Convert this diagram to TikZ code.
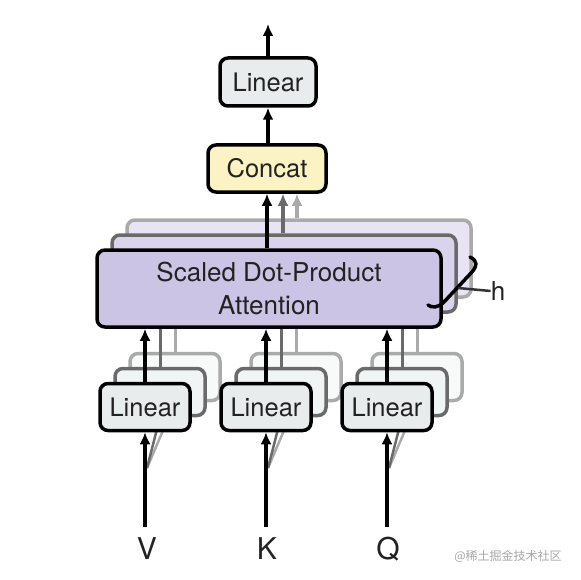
\documentclass[tikz,border=0pt]{standalone}
\usepackage{fontspec}
\setmainfont{TeX Gyre Heros}
\newfontfamily\cjk{Noto Sans CJK SC}
\usetikzlibrary{arrows.meta}
\definecolor{linfill}{HTML}{E8ECEC}
\definecolor{catfill}{HTML}{FBF3C3}
\definecolor{attfill}{HTML}{CCC4E4}
\definecolor{textc}{HTML}{222222}
\definecolor{midgray}{HTML}{6A6A6A}
\definecolor{lightgray}{HTML}{AAAAAA}
\begin{document}
\begin{tikzpicture}[x=1pt,y=-1pt,
  box/.style={draw=black, line width=3.5pt, rounded corners=8pt, inner sep=0pt, text=textc,
    font=\fontsize{25.5}{34}\selectfont, align=center},
  linbox/.style={box, fill=linfill, minimum width=90pt, minimum height=47pt},
  linback/.style={linbox, draw=midgray, fill=linfill!60!white},
  linbackb/.style={linbox, draw=lightgray, fill=linfill!30!white},
  attbox/.style={box, fill=attfill, minimum width=344pt, minimum height=77pt},
  attback/.style={attbox, draw=midgray, fill=attfill!75!white},
  attbackb/.style={attbox, draw=lightgray, fill=attfill!45!white},
  arr/.style={line width=3.5pt, -{Latex[length=12pt,width=11pt]}},
  garr/.style={arr, draw=midgray},
  lgarr/.style={arr, draw=lightgray},
  gline/.style={line width=3pt, draw=midgray},
  lgline/.style={line width=3pt, draw=lightgray},
  lbl/.style={text=textc, font=\fontsize{30}{30}\selectfont, inner sep=0pt},
]
\useasboundingbox (0,0) rectangle (580,580);

% attention back layers
\node[attbackb] (att3) at (299,258.5) {};
\node[attback] (att2) at (284,273.5) {};

% concat and top linear
\node[box, fill=catfill, minimum width=118pt, minimum height=47pt] (cat) at (267,168.5) {Concat};
\node[box, fill=linfill, minimum width=96pt, minimum height=48pt] (lintop) at (268,82) {Linear};
\coordinate (out) at (268,24);

% gray output arrows
\draw[lgarr] (att3.north -| 297,0) -- (297,0 |- cat.south);
\draw[garr] (att2.north -| 283,0) -- (283,0 |- cat.south);

% linear groups back layers
\foreach \n/\x in {v/145,k/266,q/387}{
  \node[linbackb] (\n3) at (\x+30,377) {};
  \node[linback] (\n2) at (\x+15,392) {};
  \draw[lgline] (\n3.north) -- (\n3.north |- att3.south);
  \draw[gline] (\n2.north) -- (\n2.north |- att2.south);
}

% input labels
\node[lbl] (lv) at (147,549) {V};
\node[lbl] (lk) at (267,549) {K};
\node[lbl] (lq) at (388,549) {Q};
\coordinate (iv) at (145,527);
\coordinate (ik) at (266,527);
\coordinate (iq) at (387,527);
\coordinate (sv) at (147,468);
\coordinate (sk) at (268,468);
\coordinate (sq) at (389,468);

% gray input lines to back layers
\foreach \n in {v,k,q}{
  \draw[lgline, line width=2.5pt] (s\n) -- (\n3.south);
  \draw[gline, line width=2.5pt] (s\n) -- (\n2.south);
}

% front linear boxes
\node[linbox] (v1) at (145,407) {Linear};
\node[linbox] (k1) at (266,407) {Linear};
\node[linbox] (q1) at (387,407) {Linear};

% front attention
\node[attbox, font=\fontsize{26}{33}\selectfont] (att1) at (269,288.5) {Scaled Dot-Product\\Attention};

% black arrows
\draw[arr] (iv) -- (v1.south);
\draw[arr] (ik) -- (k1.south);
\draw[arr] (iq) -- (q1.south);
\draw[arr] (v1.north) -- (v1.north |- att1.south);
\draw[arr] (k1.north) -- (k1.north |- att1.south);
\draw[arr] (q1.north) -- (q1.north |- att1.south);
\draw[arr] (att1.north -| cat.south) -- (cat.south);
\draw[arr] (cat.north -| lintop.south) -- (lintop.south);
\draw[arr] (lintop.north) -- (out);

% brace with h
\node[text=textc, font=\fontsize{26}{26}\selectfont, inner sep=0pt] (h) at (498,291) {h};
\draw[line width=3.5pt, line cap=round, line join=round]
  (470,257) .. controls (478,261) and (477,266) .. (472,272) -- (444,302)
  .. controls (438,308) and (432,308) .. (428,305);
\coordinate (bm) at (458,288);
\draw[line width=2.5pt, draw=black!80] (bm) -- (h.west);

% watermark
\node[text=gray!70, font=\cjk\fontsize{12}{12}\selectfont, inner sep=0pt] (wm) at (508,556) {@稀土掘金技术社区};
\end{tikzpicture}
\end{document}
